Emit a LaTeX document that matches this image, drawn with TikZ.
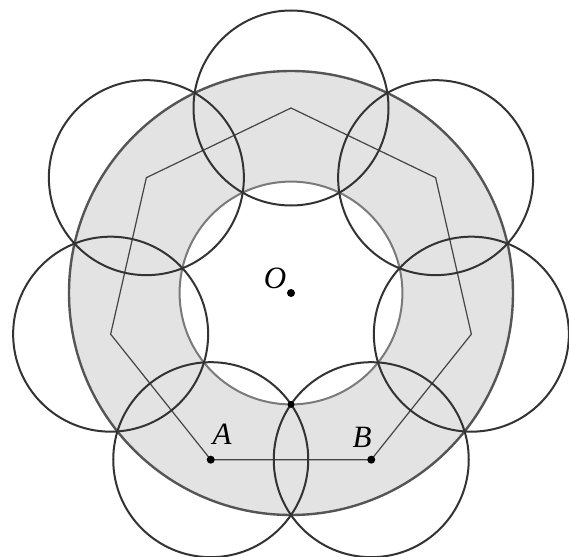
\documentclass[tikz,border=0pt]{standalone}
\usepackage{fontspec}
\setmainfont{Liberation Serif}
\usetikzlibrary{calc}
\definecolor{ringfill}{HTML}{E3E3E3}
\definecolor{outerline}{HTML}{555555}
\definecolor{innerline}{HTML}{7A7A7A}
\definecolor{circline}{HTML}{333333}
\definecolor{sideline}{HTML}{444444}

\begin{document}
\begin{tikzpicture}[x=1pt,y=1pt,
  ring/.style={fill=ringfill,even odd rule},
  outerc/.style={draw=outerline,line width=2.4pt},
  innerc/.style={draw=innerline,line width=2pt},
  circ/.style={draw=circline,line width=2pt},
  side/.style={draw=sideline,line width=1.2pt},
  dot/.style={circle,fill=black,inner sep=0pt,minimum size=8pt},
  lbl/.style={inner sep=0pt,font=\fontsize{31}{35}\selectfont\itshape}]
  \useasboundingbox (-291,-263) rectangle (278,293);

  % Annulus
  \coordinate (O) at (0,0);
  \fill[ring] (O) circle (222pt) (O) circle (111.4pt);
  \draw[outerc] (O) circle (222pt);
  \draw[innerc] (O) circle (111.4pt);

  % Heptagon
  \foreach \k in {0,...,6}
    \coordinate (v\k) at ({-64.29+\k*51.43}:185);
  \draw[side] (v0) -- (v1) -- (v2) -- (v3) -- (v4) -- (v5) -- (v6) -- cycle;

  % Circles on the vertices
  \foreach \k in {0,...,6}
    \draw[circ] (v\k) circle (97.5pt);

  % Points
  \coordinate (M) at (0,-111.4);
  \node[dot] (o) at (O) {};
  \node[dot] (a) at (v6) {};
  \node[dot] (b) at (v0) {};
  \node[dot,minimum size=7pt] (m) at (M) {};

  \node[lbl] (lo) at (-16,14.7) {O};
  \node[lbl] (la) at (-69,-141.7) {A};
  \node[lbl] (lb) at (71,-144) {B};
\end{tikzpicture}
\end{document}
